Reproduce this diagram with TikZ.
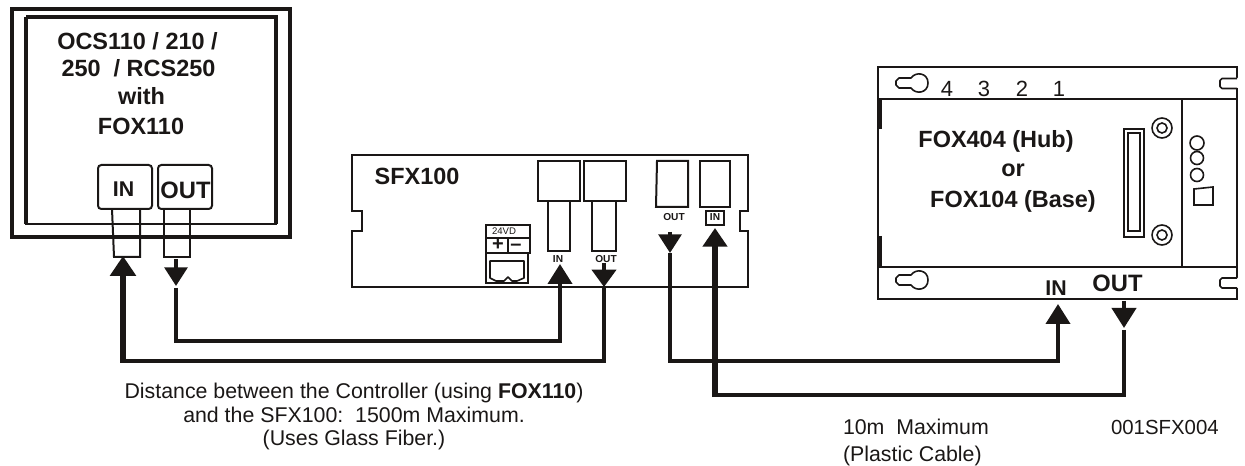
\documentclass[tikz,border=0pt]{standalone}
\usepackage{fontspec}
\setmainfont{Liberation Sans}
\usetikzlibrary{arrows.meta}
\definecolor{ink}{HTML}{1A1716}
\newcommand{\fsz}[1]{\fontsize{#1}{#1}\selectfont}
\tikzset{
  every node/.style={inner sep=0pt,outer sep=0pt,anchor=base,text=ink},
  big/.style={font=\fsz{17.6pt}\bfseries},
  port/.style={font=\fsz{16pt}\bfseries},
  portwide/.style={font=\fsz{17.8pt}\bfseries},
  tiny/.style={font=\fsz{7.6pt}\bfseries},
  note/.style={font=\fsz{16pt}},
  dev/.style={draw=ink,line width=1.5pt},
  thin dev/.style={draw=ink,line width=1.2pt},
  wire/.style={draw=ink,line width=3pt,line join=miter},
  fat wire/.style={draw=ink,line width=4.5pt,line join=miter},
  headup/.style={-{Triangle[length=15pt,width=18pt,fill=ink]}},
  keyhole/.pic={\draw[thin dev,line join=round] (-11,-5) -- (-8,-5) .. controls (-3,-12) and (9,-10) .. (9,0) .. controls (9,10) and (-3,12) .. (-8,5) -- (-20,5) -- (-23,2) -- (-23,-2) -- (-20,-5) -- cycle;},
  rnotch/.pic={\draw[thin dev,line join=round] (0,-5) -- (-15,-5) -- (-17,-3) -- (-17,3) -- (-15,5) -- (0,5);}
}
\begin{document}
\begin{tikzpicture}[x=0.75pt,y=-0.75pt]
\useasboundingbox (0,0) rectangle (1245,466);
% controller
\draw[ink,line width=3pt] (12,9) rectangle (290,237);
\draw[ink,line width=2.6pt] (26,17) -- (276,17) -- (276,224);
\draw[ink,line width=2.6pt] (26,17) -- (26,224);
\draw[ink,line width=1.8pt] (25,224) -- (277,224);
\draw[dev,rounded corners=2.5] (98,165) -- (152,165) -- (152,209) -- (98,209) -- cycle;
\draw[dev,rounded corners=2.5] (158,165) -- (212,165) -- (212,209) -- (158,209) -- cycle;
\draw[dev] (112,209) -- (114,257) -- (140,257) -- (140,209);
\draw[dev] (164,209) -- (164,257) -- (190,257) -- (190,209);
\node[big] (c1) at (137.5,50) {OCS110 / 210 /};
\node[big] (c2) at (138.5,77) {250\ \ / RCS250};
\node[big] (c3) at (141.5,105) {with};
\node[big] (c4) at (141,135) {FOX110};
\node[port] (cin) at (123.5,197) {IN};
\node[portwide] (cout) at (185.5,199) {OUT};
% SFX100
\draw[dev] (352,155) -- (748,155) -- (748,211) -- (740,211) -- (740,231) -- (748,231) -- (748,287) -- (352,287) -- (352,231) -- (362,231) -- (362,211) -- (352,211) -- cycle;
\node[big] (sfx) at (417,185) {SFX100};
\draw[dev] (538,161) rectangle (580,201);
\draw[dev] (548,201) rectangle (570,251);
\draw[dev] (584,161) rectangle (626,201);
\draw[dev] (592,201) rectangle (616,251);
\draw[dev] (657,161) -- (688,161) -- (688,207) -- (656,207) -- cycle;
\draw[dev] (700,161) rectangle (730,207);
\draw[dev] (706,211) rectangle (724,225);
\node[tiny] (sout2) at (674,221) {OUT};
\node[tiny] (sin2) at (715,221) {IN};
\node[tiny] (sin1) at (558,263) {IN};
\node[tiny] (sout1) at (606,263) {OUT};
% power
\draw[dev] (486,225) rectangle (530,253);
\draw[thin dev] (486,238) -- (530,238);
\draw[thin dev] (508,238) -- (508,253);
\draw[dev] (486,253) rectangle (528,283);
\draw[thin dev,line join=round] (490,261) -- (524,261) -- (524,278) -- (517,281) -- (512,281) -- (508,277) -- (504,281) -- (496,281) -- (490,278) -- cycle;
\node[font=\fsz{7.2pt}] (pw) at (504,235) {24VD};
\node[font=\fsz{15pt}\bfseries] (plus) at (498,250.5) {+};
\node[font=\fsz{15pt}\bfseries] (minus) at (516,250.5) {–};
% FOX hub
\draw[dev] (878,67) rectangle (1237,299);
\draw[dev] (878,99) -- (1237,99);
\draw[dev] (878,267) -- (1237,267);
\draw[thin dev] (1182,99) -- (1182,267);
\draw[ink,line width=2.4pt] (880,99) -- (880,129) (880,236) -- (880,267);
\fill[white] (1236,78) rectangle (1239,88) (1236,278) rectangle (1239,288);
\pic at (1237,83.5) {rnotch};
\pic at (1237,283) {rnotch};
\pic at (919,83) {keyhole};
\pic at (919,280) {keyhole};
\node[font=\fsz{16.5pt}] (d4) at (947,97) {4};
\node[font=\fsz{16.5pt}] (d3) at (984,97) {3};
\node[font=\fsz{16.5pt}] (d2) at (1022,97) {2};
\node[font=\fsz{16.5pt}] (d1) at (1059,97) {1};
\node[big] (f1) at (996,148) {FOX404 (Hub)};
\node[big] (f2) at (1013,177) {or};
\node[big] (f3) at (1013,208) {FOX104 (Base)};
\draw[thin dev] (1124,129) rectangle (1144,237);
\draw[thin dev] (1128,133) rectangle (1140,231);
\draw[thin dev] (1162,128) circle[radius=10];
\draw[thin dev] (1162,128) circle[radius=5];
\draw[thin dev] (1162,235) circle[radius=10];
\draw[thin dev] (1162,235) circle[radius=5];
\draw[thin dev] (1197,143) circle[radius=7];
\draw[thin dev] (1197,158) circle[radius=6.5];
\draw[thin dev] (1197,175) circle[radius=6.5];
\draw[thin dev] (1194,189) -- (1213,187) -- (1213,205) -- (1194,205) -- cycle;
\node[port] (fin) at (1056,296) {IN};
\node[portwide] (fout) at (1117.5,292) {OUT};
% connector end points
\coordinate (cinT) at (123,256);
\coordinate (cinC) at (123,363);
\coordinate (coutS) at (176,259);
\coordinate (coutH) at (176,286);
\coordinate (coutW) at (176,288);
\coordinate (sinT) at (560,264);
\coordinate (soutS) at (604,263);
\coordinate (soutH) at (604,287);
\coordinate (s2outS) at (670,232);
\coordinate (s2outH) at (670,253);
\coordinate (s2outW) at (670,253);
\coordinate (s2inT) at (715,228);
\coordinate (s2inC) at (715,397);
\coordinate (finT) at (1058,304);
\coordinate (foutS) at (1124,301);
\coordinate (foutH) at (1124,328);
\coordinate (foutW) at (1124,330);
% connectors
\draw[wire] (soutH) -- (soutH|-0,361) -- (123,361);
\draw[fat wire,-{Triangle[length=15pt,width=19pt,fill=ink]}] (cinC) -- (cinT);
\draw[wire,-{Triangle[length=14pt,width=17pt,fill=ink]}] (coutS) -- (coutH);
\draw[wire,headup] (coutW) -- (coutW|-0,341) -- (560,341) -- (sinT);
\draw[wire,-{Triangle[length=13pt,width=18pt,fill=ink]}] (soutS) -- (soutH);
\draw[wire,-{Triangle[length=14pt,width=17pt,fill=ink]}] (s2outS) -- (s2outH);
\draw[wire,headup] (s2outW) -- (s2outW|-0,361) -- (1058,361) -- (finT);
\draw[wire] (foutW) -- (foutW|-0,395) -- (715,395);
\draw[fat wire,-{Triangle[length=14pt,width=18pt,fill=ink]}] (s2inC) -- (s2inT);
\draw[wire,-{Triangle[length=15pt,width=18pt,fill=ink]}] (foutS) -- (foutH);
% notes
\node[note] (n1) at (354,398) {Distance between the Controller (using \textbf{FOX110})};
\node[note] (n2) at (354,422) {and the SFX100:\ \ 1500m Maximum.};
\node[note] (n3) at (354,445) {(Uses Glass Fiber.)};
\node[note,anchor=base west] (n4) at (843,434) {10m\ \ Maximum};
\node[note,anchor=base west] (n5) at (843,461) {(Plastic Cable)};
\node[note,anchor=base west,font=\fsz{15.3pt}] (n6) at (1111,434) {001SFX004};
\end{tikzpicture}
\end{document}
